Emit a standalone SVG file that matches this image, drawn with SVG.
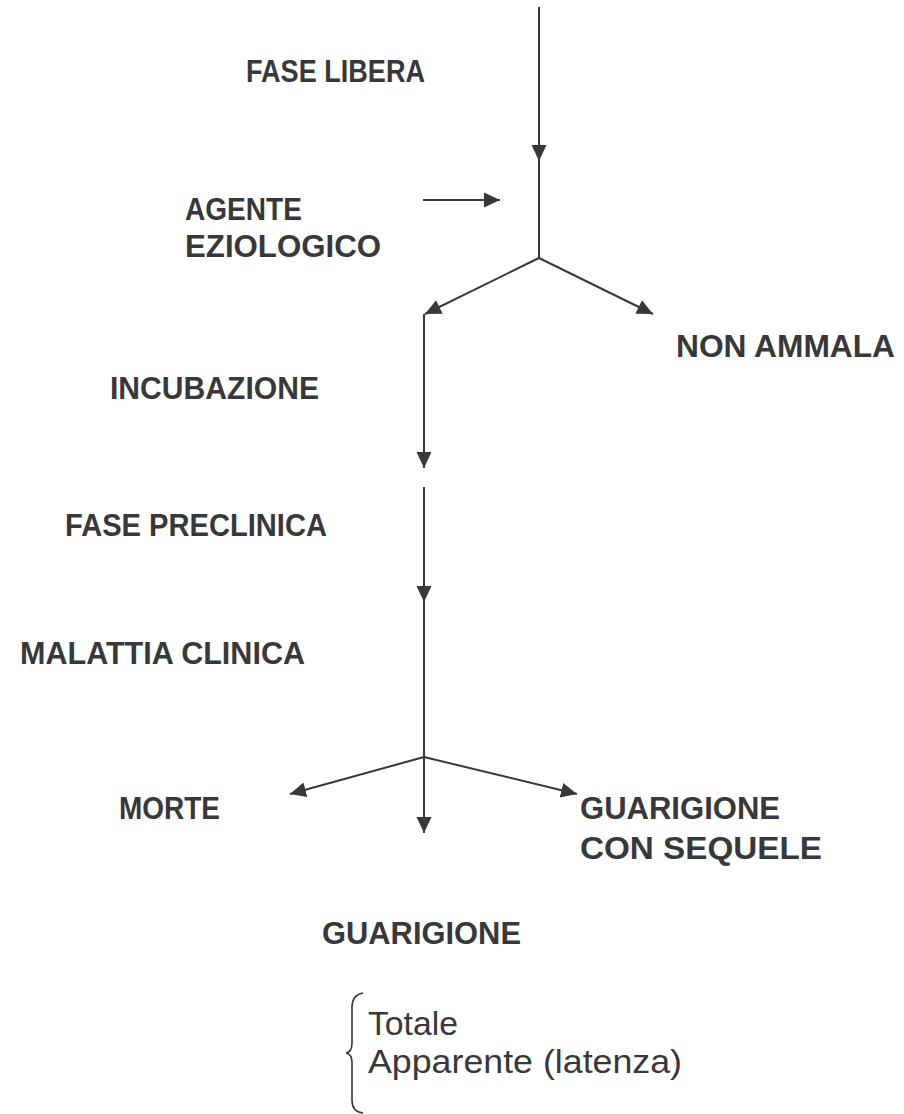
<svg xmlns="http://www.w3.org/2000/svg" width="904" height="1114" viewBox="0 0 904 1114">
<style>
.b{font-family:"Liberation Sans",Arial,sans-serif;font-weight:bold;font-size:32px;fill:#38383b}
.r{font-family:"Liberation Sans",Arial,sans-serif;font-size:34px;fill:#38383b}
.ln{stroke:#38383b;stroke-width:2;fill:none}
</style>
<defs>
<marker id="ah" markerUnits="userSpaceOnUse" markerWidth="17" markerHeight="17" viewBox="0 0 17 17" refX="16" refY="8" orient="auto">
<path d="M0,0.5 L16,8 L0,15.5 z" fill="#38383b"/>
</marker>
</defs>
<rect width="904" height="1114" fill="#ffffff"/>
<g id="connectors">
<line class="ln" x1="539" y1="7" x2="539" y2="161" marker-end="url(#ah)"/>
<line class="ln" x1="539" y1="158" x2="539" y2="258"/>
<line class="ln" x1="423" y1="200" x2="500" y2="200" marker-end="url(#ah)"/>
<line class="ln" x1="539" y1="258" x2="425" y2="314" marker-end="url(#ah)"/>
<line class="ln" x1="539" y1="258" x2="653" y2="314" marker-end="url(#ah)"/>
<line class="ln" x1="424" y1="314" x2="424" y2="468" marker-end="url(#ah)"/>
<line class="ln" x1="424" y1="487" x2="424" y2="602" marker-end="url(#ah)"/>
<line class="ln" x1="424" y1="599" x2="424" y2="757"/>
<line class="ln" x1="424" y1="757" x2="290" y2="794" marker-end="url(#ah)"/>
<line class="ln" x1="424" y1="757" x2="577" y2="794" marker-end="url(#ah)"/>
<line class="ln" x1="424" y1="757" x2="424" y2="833" marker-end="url(#ah)"/>
</g>
<g id="fase-libera"><text class="b" x="246" y="82" textLength="179" lengthAdjust="spacingAndGlyphs">FASE LIBERA</text></g>
<g id="agente-eziologico">
<text class="b" x="185" y="220" textLength="117" lengthAdjust="spacingAndGlyphs">AGENTE</text>
<text class="b" x="185" y="257" textLength="196" lengthAdjust="spacingAndGlyphs">EZIOLOGICO</text>
</g>
<g id="non-ammala"><text class="b" x="676" y="357" textLength="219" lengthAdjust="spacingAndGlyphs">NON AMMALA</text></g>
<g id="incubazione"><text class="b" x="110" y="399" textLength="209" lengthAdjust="spacingAndGlyphs">INCUBAZIONE</text></g>
<g id="fase-preclinica"><text class="b" x="65" y="536" textLength="262" lengthAdjust="spacingAndGlyphs">FASE PRECLINICA</text></g>
<g id="malattia-clinica"><text class="b" x="20" y="664" textLength="285" lengthAdjust="spacingAndGlyphs">MALATTIA CLINICA</text></g>
<g id="morte"><text class="b" x="119" y="819" textLength="101" lengthAdjust="spacingAndGlyphs">MORTE</text></g>
<g id="guarigione-sequele">
<text class="b" x="580" y="819" textLength="200" lengthAdjust="spacingAndGlyphs">GUARIGIONE</text>
<text class="b" x="580" y="859" textLength="242" lengthAdjust="spacingAndGlyphs">CON SEQUELE</text>
</g>
<g id="guarigione"><text class="b" x="322" y="944" textLength="199" lengthAdjust="spacingAndGlyphs">GUARIGIONE</text></g>
<g id="tipi-guarigione">
<path class="ln" style="stroke-width:1.6" d="M363,993 Q352,995 352,1007 L352,1043 Q352,1052 346,1053 Q352,1054 352,1063 L352,1100 Q352,1112 363,1113"/>
<text class="r" x="368" y="1035" textLength="90" lengthAdjust="spacingAndGlyphs">Totale</text>
<text class="r" x="368" y="1073" textLength="314" lengthAdjust="spacingAndGlyphs">Apparente (latenza)</text>
</g>
</svg>
